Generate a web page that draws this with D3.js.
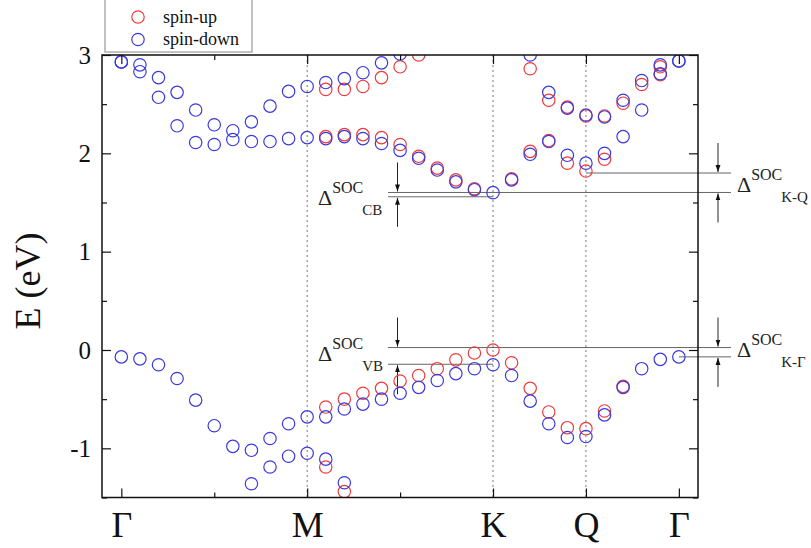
<!DOCTYPE html>
<html>
<head>
<meta charset="utf-8">
<script src="https://cdn.jsdelivr.net/npm/d3@7"></script>
<style>
  body { margin: 0; background: #fff; }
  svg { display: block; font-family: "Liberation Serif", "Times New Roman", serif; }
</style>
</head>
<body>
<svg id="chart" width="811" height="548"></svg>
<script>
// k-path sample index (0 .. 30): Γ → M → K → Q → Γ
const kIndex = d3.range(31);

// High-symmetry points along the path
const kPointPos = [0, 10, 20, 25, 30];
const kPointLabels = ["Γ", "M", "K", "Q", "Γ"];
const kMinorPos = [5, 15];
const dashedPos = [10, 20, 25];

// Energy ticks (eV)
const energyTicks = [-1, 0, 1, 2, 3];
const energyMinorTicks = [-1.5, -0.5, 0.5, 1.5, 2.5];

// Spin-down bands (eV), null where no point is plotted
const downVB1 = [-0.07, -0.09, -0.15, -0.29, -0.51, -0.77, -0.98, -1.02, -0.90, -0.75, -0.68,
                 -0.68, -0.60, -0.55, -0.50, -0.44, -0.38, -0.31, -0.24, -0.19, -0.15,
                 -0.26, -0.52, -0.75, -0.89, -0.88, -0.66, -0.38, -0.19, -0.095, -0.07];
const downVB2 = [null, null, null, null, null, null, null, -1.36, -1.19, -1.08, -1.05,
                 -1.11, -1.35, null, null, null, null, null, null, null, null,
                 null, null, null, null, null, null, null, null, null, null];
const downCB1 = [2.93, 2.83, 2.57, 2.28, 2.11, 2.09, 2.14, 2.12, 2.12, 2.15, 2.16,
                 2.15, 2.17, 2.15, 2.10, 2.03, 1.95, 1.83, 1.71, 1.63, 1.60,
                 1.73, 1.99, 2.12, 1.98, 1.90, 2.00, 2.17, 2.44, 2.81, 2.94];
const downCB2 = [2.93, 2.90, 2.77, 2.62, 2.44, 2.29, 2.23, 2.32, 2.48, 2.63, 2.68,
                 2.72, 2.76, 2.82, 2.92, 3.01, null, null, null, null, null,
                 null, 3.00, 2.62, 2.46, 2.39, 2.37, 2.54, 2.74, 2.90, 2.94];

// Spin-up bands (eV)
const upVB1 = [null, null, null, null, null, null, null, null, null, null, null,
               -0.58, -0.50, -0.44, -0.39, -0.315, -0.26, -0.19, -0.10, -0.03, 0.00,
               -0.13, -0.39, -0.63, -0.79, -0.80, -0.62, -0.37, null, null, null];
const upVB2 = [null, null, null, null, null, null, null, null, null, null, null,
               -1.19, -1.44, null, null, null, null, null, null, null, null,
               null, null, null, null, null, null, null, null, null, null];
const upCB1 = [null, null, null, null, null, null, null, null, null, null, null,
               2.17, 2.19, 2.19, 2.16, 2.09, 1.97, 1.85, 1.73, 1.64, null,
               1.74, 2.02, 2.13, 1.90, 1.82, 1.94, null, null, 2.80, null];
const upCB2 = [null, null, null, null, null, null, null, null, null, null, null,
               2.65, 2.65, 2.68, 2.77, 2.88, 3.00, null, null, null, null,
               null, 2.86, 2.54, 2.47, 2.38, 2.38, 2.51, 2.70, 2.88, null];

// Spin-orbit splitting markers (eV)
const socCB = [1.602, 1.558];
const socVB = [0.025, -0.145];
const socKQ = [1.80, 1.602];
const socKG = [0.025, -0.07];

const colors = { up: "#ef3b3b", down: "#3a3adf" };

const svg = d3.select("#chart");
const plot = { left: 102, right: 698, top: 55, bottom: 497.5 };

const x = d3.scaleLinear().domain([-1.04, 31.03]).range([plot.left, plot.right]);
const y = d3.scaleLinear().domain([-1.5, 3]).range([plot.bottom, plot.top]);

const defs = svg.append("defs");
defs.append("clipPath").attr("id", "plotClip")
  .append("rect")
  .attr("x", plot.left).attr("y", plot.top)
  .attr("width", plot.right - plot.left).attr("height", plot.bottom - plot.top);

// dotted guides at high-symmetry points
svg.append("g").selectAll("line").data(dashedPos).join("line")
  .attr("x1", d => x(d)).attr("x2", d => x(d))
  .attr("y1", plot.top).attr("y2", plot.bottom)
  .attr("stroke", "#777").attr("stroke-width", 1).attr("stroke-dasharray", "2,3");

// SOC splitting lines
const lineColor = "#666";
function hline(e, x1, x2) {
  svg.append("line")
    .attr("x1", x1).attr("x2", x2).attr("y1", y(e)).attr("y2", y(e))
    .attr("stroke", lineColor).attr("stroke-width", 1);
}
hline(socCB[0], 388, 731);
hline(socCB[1], 388, x(20));
hline(socKQ[0], x(25), 731);
hline(socVB[0], 388, 731);
hline(socVB[1], 388, x(20));
hline(socKG[1], x(30), 731);

// arrows
defs.append("marker").attr("id", "arrowHead")
  .attr("viewBox", "0 0 10 10").attr("refX", 10).attr("refY", 5)
  .attr("markerWidth", 7).attr("markerHeight", 9).attr("orient", "auto")
  .attr("markerUnits", "userSpaceOnUse")
  .append("path").attr("d", "M0,1.5 L10,5 L0,8.5 Z").attr("fill", "#111");

function arrowPair(xp, eTop, eBot) {
  svg.append("line").attr("x1", xp).attr("x2", xp)
    .attr("y1", y(eTop) - 30).attr("y2", y(eTop) - 1)
    .attr("stroke", "#222").attr("stroke-width", 1).attr("marker-end", "url(#arrowHead)");
  svg.append("line").attr("x1", xp).attr("x2", xp)
    .attr("y1", y(eBot) + 30).attr("y2", y(eBot) + 1)
    .attr("stroke", "#222").attr("stroke-width", 1).attr("marker-end", "url(#arrowHead)");
}
arrowPair(397.5, socCB[0], socCB[1]);
arrowPair(397.5, socVB[0], socVB[1]);
arrowPair(718, socKQ[0], socKQ[1]);
arrowPair(718, socKG[0], socKG[1]);

// Δ^SOC_sub labels
function socLabel(x0, baseY, sub) {
  const t = svg.append("text").attr("x", x0).attr("y", baseY).attr("fill", "#222");
  t.append("tspan").attr("font-size", 22).text("Δ");
  t.append("tspan").attr("font-size", 16).attr("dy", -12).text("SOC");
  t.append("tspan").attr("font-size", 15).attr("dy", 22).attr("dx", -1).text(sub);
}
socLabel(318, 205, "CB");
socLabel(318, 361, "VB");
socLabel(737, 192, "K-Q");
socLabel(737, 357, "K-Γ");

// band points
const series = [
  { data: upVB1, spin: "up" }, { data: upVB2, spin: "up" },
  { data: upCB1, spin: "up" }, { data: upCB2, spin: "up" },
  { data: downVB1, spin: "down" }, { data: downVB2, spin: "down" },
  { data: downCB1, spin: "down" }, { data: downCB2, spin: "down" }
];
const pts = svg.append("g").attr("clip-path", "url(#plotClip)");
series.forEach(s => {
  const d = kIndex.map(k => ({ k, e: s.data[k] })).filter(p => p.e !== null);
  pts.append("g").selectAll("circle").data(d).join("circle")
    .attr("cx", p => x(p.k)).attr("cy", p => y(p.e)).attr("r", 6.2)
    .attr("fill", "none").attr("stroke", colors[s.spin]).attr("stroke-width", 1.2);
});

// axes (inward ticks on all four sides)
const axisFont = g => g.selectAll("text").attr("font-family", "Liberation Serif").attr("fill", "#111");
svg.append("g").attr("transform", `translate(0,${plot.bottom})`)
  .call(d3.axisBottom(x).tickValues(kPointPos).tickFormat((d, i) => kPointLabels[i])
        .tickSize(-9).tickPadding(14))
  .call(g => g.select(".domain").remove())
  .call(g => g.selectAll("text").attr("font-size", 36))
  .call(axisFont);
svg.append("g").attr("transform", `translate(0,${plot.bottom})`)
  .call(d3.axisBottom(x).tickValues(kMinorPos).tickFormat("").tickSize(-5))
  .call(g => g.select(".domain").remove());
svg.append("g").attr("transform", `translate(0,${plot.top})`)
  .call(d3.axisTop(x).tickValues(kPointPos).tickFormat("").tickSize(-9))
  .call(g => g.select(".domain").remove());
svg.append("g").attr("transform", `translate(0,${plot.top})`)
  .call(d3.axisTop(x).tickValues(kMinorPos).tickFormat("").tickSize(-5))
  .call(g => g.select(".domain").remove());

svg.append("g").attr("transform", `translate(${plot.left},0)`)
  .call(d3.axisLeft(y).tickValues(energyTicks).tickFormat(d => String(d)).tickSize(-9).tickPadding(11))
  .call(g => g.select(".domain").remove())
  .call(g => g.selectAll("text").attr("font-size", 25))
  .call(axisFont);
svg.append("g").attr("transform", `translate(${plot.left},0)`)
  .call(d3.axisLeft(y).tickValues(energyMinorTicks).tickFormat("").tickSize(-5))
  .call(g => g.select(".domain").remove());
svg.append("g").attr("transform", `translate(${plot.right},0)`)
  .call(d3.axisRight(y).tickValues(energyTicks).tickFormat("").tickSize(-9))
  .call(g => g.select(".domain").remove());
svg.append("g").attr("transform", `translate(${plot.right},0)`)
  .call(d3.axisRight(y).tickValues(energyMinorTicks).tickFormat("").tickSize(-5))
  .call(g => g.select(".domain").remove());
svg.selectAll(".tick line").attr("stroke", "#111").attr("stroke-width", 1.2);

// frame
svg.append("rect")
  .attr("x", plot.left).attr("y", plot.top)
  .attr("width", plot.right - plot.left).attr("height", plot.bottom - plot.top)
  .attr("fill", "none").attr("stroke", "#111").attr("stroke-width", 1.5);

// y title
svg.append("text")
  .attr("transform", `translate(40,281) rotate(-90)`)
  .attr("text-anchor", "middle").attr("font-size", 36).attr("fill", "#111")
  .text("E (eV)");

// legend
const legend = svg.append("g");
legend.append("rect").attr("x", 105).attr("y", -3).attr("width", 147).attr("height", 55)
  .attr("fill", "#fff").attr("stroke", "#999").attr("stroke-width", 1.2);
const legendItems = [{ label: "spin-up", spin: "up" }, { label: "spin-down", spin: "down" }];
legendItems.forEach((it, i) => {
  legend.append("circle").attr("cx", 138).attr("cy", 17 + i * 22.5).attr("r", 6.2)
    .attr("fill", "none").attr("stroke", colors[it.spin]).attr("stroke-width", 1.2);
  legend.append("text").attr("x", 163).attr("y", 22.5 + i * 22.5)
    .attr("font-size", 18).attr("fill", "#111").text(it.label);
});
</script>
</body>
</html>
